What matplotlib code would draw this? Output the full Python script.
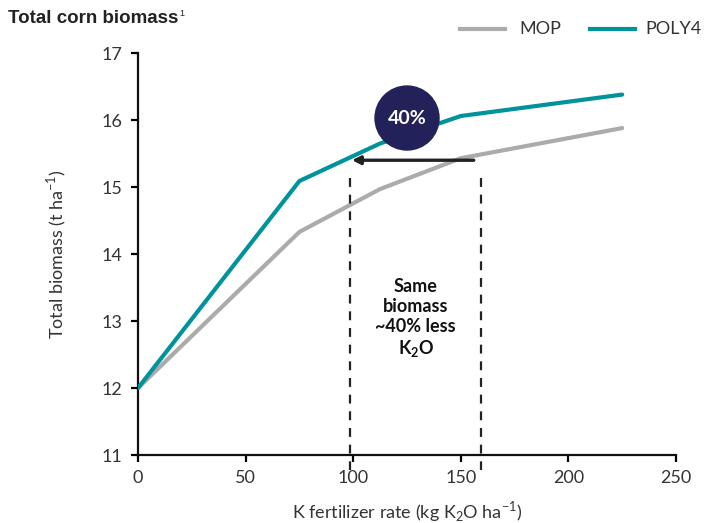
import matplotlib.pyplot as plt
from matplotlib.patches import Ellipse

# data
k_rate = [0, 75, 112.5, 150, 225]
mop = [12.0, 14.33, 14.97, 15.43, 15.88]
poly4 = [12.0, 15.09, 15.65, 16.06, 16.38]

x_ticks = [0, 50, 100, 150, 200, 250]
y_ticks = [11, 12, 13, 14, 15, 16, 17]

same_level = 15.4
poly4_x = 99.4
mop_x = 156
dash_left = 98.5
dash_right = 159.5

MOP_COL = '#ababab'
POLY_COL = '#00939b'
NAVY = '#23215a'

plt.rcParams['font.family'] = ['Lato', 'DejaVu Sans']

fig = plt.figure(figsize=(7.2, 5.23), dpi=100)
ax = fig.add_axes([0.1917, 0.130, 0.7472, 0.7686])

ax.plot(k_rate, mop, color=MOP_COL, lw=3, solid_capstyle='round', zorder=3)
ax.plot(k_rate, poly4, color=POLY_COL, lw=3, solid_capstyle='round', zorder=3)

# dashed guide lines
for xv in (dash_left, dash_right):
    ax.plot([xv, xv], [15.13, 10.78], color='#222222', lw=1.6,
            ls=(0, (4, 3.5)), clip_on=False, zorder=4)

# arrow from MOP to POLY4 at the same biomass
ax.annotate('', xy=(poly4_x, same_level), xytext=(mop_x, same_level),
            arrowprops=dict(arrowstyle='-|>', color='#222222', lw=2.4,
                            mutation_scale=12, shrinkA=0, shrinkB=0),
            zorder=5)

# navy badge
ex, ey = 125, 16.03
w = 64 / (538 / 250)
h = 64 / (402 / 6)
ax.add_patch(Ellipse((ex, ey), w, h, color=NAVY, zorder=6))
ax.text(ex, ey, '40%', color='white', fontsize=14, fontweight='bold',
        ha='center', va='center', zorder=7)

ax.text(129, 13.04, 'Same\nbiomass\n~40% less\nK$_\\mathregular{2}$O', fontsize=13,
        fontweight='bold', ha='center', va='center', linespacing=1.2,
        color='#111111')

ax.set_xlim(0, 250)
ax.set_ylim(11, 17)
ax.set_xticks(x_ticks)
ax.set_yticks(y_ticks)
for s in ('top', 'right'):
    ax.spines[s].set_visible(False)
for s in ('left', 'bottom'):
    ax.spines[s].set_linewidth(1.6)
    ax.spines[s].set_color('#111111')
ax.tick_params(direction='out', length=5, width=1.6, labelsize=13,
               labelcolor='#333333', pad=6)

ax.set_xlabel('K fertilizer rate (kg K$_\\mathregular{2}$O ha$^\\mathregular{-1}$)',
              fontsize=13, color='#333333', labelpad=9)
ax.set_ylabel('Total biomass (t ha$^\\mathregular{-1}$)', fontsize=13,
              color='#333333', labelpad=24)

title = fig.text(0.011, 0.965, 'Total corn biomass', fontsize=13.5,
                 fontweight='bold', family='Liberation Sans', color='#222222',
                 va='center')
fig.canvas.draw()
bb = title.get_window_extent().transformed(fig.transFigure.inverted())
fig.text(bb.x1 + 0.001, 0.975, '1', fontsize=6.5, family='Liberation Sans',
         color='#222222', va='center')

# legend drawn in figure coords
fig.add_artist(plt.Line2D([0.639, 0.701], [0.944, 0.944], color=MOP_COL, lw=3))
fig.text(0.722, 0.944, 'MOP', fontsize=13, color='#333333', va='center')
fig.add_artist(plt.Line2D([0.819, 0.882], [0.944, 0.944], color=POLY_COL, lw=3))
fig.text(0.896, 0.944, 'POLY4', fontsize=13, color='#333333', va='center')

fig.savefig('out.png', dpi=100)
